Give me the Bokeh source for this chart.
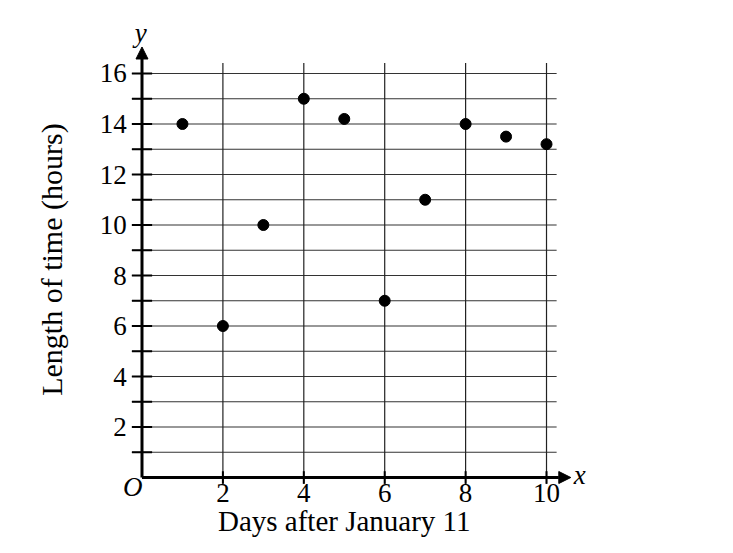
from bokeh.plotting import figure
from bokeh.models import Arrow, NormalHead
from bokeh.core.properties import value
from bokeh.embed import file_html
from bokeh.resources import INLINE

# ---- data ----
days = [1, 2, 3, 4, 5, 6, 7, 8, 9, 10]
hours = [14, 6, 10, 15, 14.2, 7, 11, 14, 13.5, 13.2]
x_ticks = [2, 4, 6, 8, 10]
x_tick_labels = ["2", "4", "6", "8", "10"]
y_ticks = [2, 4, 6, 8, 10, 12, 14, 16]
y_tick_labels = ["2", "4", "6", "8", "10", "12", "14", "16"]
y_grid = list(range(1, 17))
x_title = "Days after January 11"
y_title = "Length of time (hours)"

FONT = value("Liberation Serif")

p = figure(width=717, height=537, output_backend="svg", toolbar_location=None,
           x_range=(-3.498, 14.227), y_range=(-2.376, 18.891),
           x_axis_type=None, y_axis_type=None,
           min_border=0, min_border_left=0, min_border_right=0,
           min_border_top=0, min_border_bottom=0)
p.outline_line_color = None
p.background_fill_color = "white"

# horizontal grid lines (one per hour)
p.segment(x0=[-0.25] * len(y_grid), x1=[10.25] * len(y_grid), y0=y_grid, y1=y_grid,
          line_color="#333333", line_width=1.2)
# vertical grid lines (every 2 days)
p.segment(x0=x_ticks, x1=x_ticks, y0=[-0.25] * len(x_ticks), y1=[16.42] * len(x_ticks),
          line_color="#222222", line_width=1.2)

# tick marks
p.segment(x0=[-0.25] * len(y_grid), x1=[0.25] * len(y_grid), y0=y_grid, y1=y_grid,
          line_color="black", line_width=2)
p.segment(x0=x_ticks, x1=x_ticks, y0=[-0.25] * len(x_ticks), y1=[0.25] * len(x_ticks),
          line_color="black", line_width=2)

# axes with arrows
p.add_layout(Arrow(end=NormalHead(size=12, fill_color="black", line_color="black", line_width=1),
                   x_start=0, y_start=0, x_end=10.6, y_end=0,
                   line_color="black", line_width=3))
p.add_layout(Arrow(end=NormalHead(size=12, fill_color="black", line_color="black", line_width=1),
                   x_start=0, y_start=0, x_end=0, y_end=17.05,
                   line_color="black", line_width=3))

# points
p.scatter(days, hours, size=11, color="black")

# tick labels
p.text(x=[-0.38] * len(y_ticks), y=y_ticks, text=y_tick_labels, text_font=FONT,
       text_font_size="27px", text_align="right", text_baseline="middle", text_color="black")
p.text(x=x_ticks, y=[-0.63] * len(x_ticks), text=x_tick_labels, text_font=FONT,
       text_font_size="27px", text_align="center", text_baseline="middle", text_color="black")

# origin and axis letters
p.text(x=[-0.23], y=[-0.38], text=["O"], text_font=FONT, text_font_style="italic",
       text_font_size="27px", text_align="center", text_baseline="middle", text_color="black")
p.text(x=[10.82], y=[0.1], text=["x"], text_font=FONT, text_font_style="italic",
       text_font_size="27px", text_align="center", text_baseline="middle", text_color="black")
p.text(x=[-0.03], y=[17.6], text=["y"], text_font=FONT, text_font_style="italic",
       text_font_size="27px", text_align="center", text_baseline="middle", text_color="black")

# axis titles
p.text(x=[5.0], y=[-1.72], text=[x_title], text_font=FONT, text_font_size="29px",
       text_align="center", text_baseline="middle", text_color="black")
p.text(x=[-2.24], y=[8.63], text=[y_title], text_font=FONT, text_font_size="30px",
       text_align="center", text_baseline="middle", angle=1.5707963, text_color="black")

open("out.html", "w").write(file_html(p, INLINE))
